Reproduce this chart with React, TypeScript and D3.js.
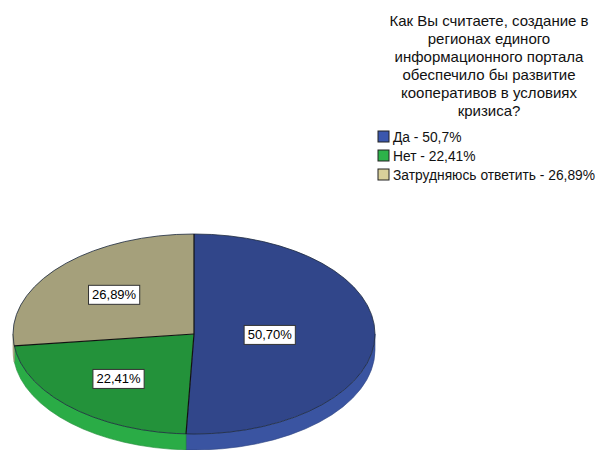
import React from "react";
import * as d3 from "d3";

const categories = ["Да", "Нет", "Затрудняюсь ответить"];
const values = [50.7, 22.41, 26.89];
const sliceLabels = ["50,70%", "22,41%", "26,89%"];
const legendLabels = ["Да - 50,7%", "Нет - 22,41%", "Затрудняюсь ответить - 26,89%"];
const titleLines = [
  "Как Вы считаете, создание в",
  "регионах единого",
  "информационного портала",
  "обеспечило бы развитие",
  "кооперативов в условиях",
  "кризиса?",
];

const topColors = ["#31468a", "#23923a", "#a5a07b"];
const sideColors = ["#3a54a1", "#2aac46", "#b8b28a"];
const legendColors = ["#3b57ad", "#2db24a", "#d9d09a"];

const W = 601;
const H = 450;
const cx = 194;
const cy = 334;
const rx = 181;
const ry = 100;
const depth = 16;
const FONT = "'Liberation Sans', Arial, sans-serif";

function pt(theta: number, r = 1, dy = 0): [number, number] {
  return [cx + rx * r * Math.sin(theta), cy - ry * r * Math.cos(theta) + dy];
}

export default function App() {
  const pie = d3.pie<number>().sort(null).value((d) => d);
  const arcs = pie(values);

  const topPath = (a: number, b: number) => {
    const [x0, y0] = pt(a);
    const [x1, y1] = pt(b);
    const large = b - a > Math.PI ? 1 : 0;
    return `M${cx},${cy}L${x0},${y0}A${rx},${ry} 0 ${large} 1 ${x1},${y1}Z`;
  };

  const sidePath = (a: number, b: number) => {
    const s = Math.max(a, Math.PI / 2);
    const e = Math.min(b, (3 * Math.PI) / 2);
    if (s >= e) return null;
    const [x0, y0] = pt(s);
    const [x1, y1] = pt(e);
    const large = e - s > Math.PI ? 1 : 0;
    return `M${x0},${y0}A${rx},${ry} 0 ${large} 1 ${x1},${y1}L${x1},${y1 + depth}A${rx},${ry} 0 ${large} 0 ${x0},${y0 + depth}Z`;
  };

  const labelFont = 13;

  return (
    <svg
      width={W}
      height={H}
      style={{ position: "absolute", left: 0, top: 0, background: "#fff" }}
      fontFamily={FONT}
    >
      {/* sides */}
      {arcs.map((a, i) => {
        const p = sidePath(a.startAngle, a.endAngle);
        return p ? (
          <path key={`s${i}`} d={p} fill={sideColors[i]} stroke={d3.color(sideColors[i])!.darker(0.6).toString()} strokeWidth={0.6} />
        ) : null;
      })}

      {/* top faces */}
      {arcs.map((a, i) => (
        <path key={`t${i}`} d={topPath(a.startAngle, a.endAngle)} fill={topColors[i]} stroke="none" />
      ))}
      {/* outline */}
      <ellipse cx={cx} cy={cy} rx={rx} ry={ry} fill="none" stroke="#1e2a40" strokeWidth={1} strokeOpacity={0.8} />
      {arcs.map((a, i) => {
        const [x, y] = pt(a.startAngle);
        return <line key={`l${i}`} x1={cx} y1={cy} x2={x} y2={y} stroke="#111" strokeWidth={1.2} />;
      })}

      {/* labels at area centroid of each slice */}
      {arcs.map((a, i) => {
        const alpha = a.endAngle - a.startAngle;
        const mid = (a.startAngle + a.endAngle) / 2;
        const f = (4 * Math.sin(alpha / 2)) / (3 * alpha);
        const [x, y] = pt(mid, f);
        const w = sliceLabels[i].length * 7.2 + 8;
        const h = 19;
        return (
          <g key={`lab${i}`}>
            <rect x={x - w / 2} y={y - h / 2} width={w} height={h} fill="#fff" stroke="#333" strokeWidth={1} />
            <text x={x} y={y} textAnchor="middle" dominantBaseline="central" fontSize={labelFont} fill="#000">
              {sliceLabels[i]}
            </text>
          </g>
        );
      })}

      {/* title */}
      {titleLines.map((t, i) => (
        <text key={`ti${i}`} x={489} y={26 + i * 18} textAnchor="middle" fontSize={15} fill="#111">
          {t}
        </text>
      ))}

      {/* legend */}
      {categories.map((c, i) => (
        <g key={`lg${i}`} transform={`translate(378, ${131 + i * 19})`}>
          <rect x={0} y={0} width={11} height={11} fill={legendColors[i]} stroke="#222" strokeWidth={1} />
          <text x={15} y={10.5} fontSize={13.8} fill="#111">
            {legendLabels[i]}
          </text>
        </g>
      ))}
    </svg>
  );
}
